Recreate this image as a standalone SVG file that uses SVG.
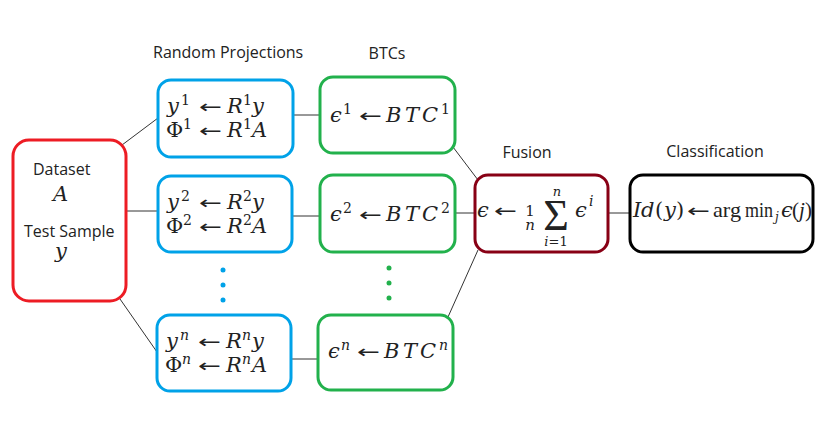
<svg xmlns="http://www.w3.org/2000/svg" width="830" height="440" viewBox="0 0 830 440">
<style>
.box{fill:#fff;stroke-width:3}
.lbl{font-family:"Open Sans",Lato,sans-serif;font-size:16px;fill:#222}
.m{font-family:"DejaVu Serif","Liberation Serif",serif;font-size:21px;fill:#222}
.r{font-family:"Liberation Serif",serif;font-size:21px;fill:#222}
.i{font-style:italic}
.s{font-size:14px}
.t{font-size:13px}
.f{font-size:15px}
.c{stroke:#333;stroke-width:1;fill:none}
</style>
<defs>
<text id="ar" font-family="DejaVu Sans,sans-serif" font-size="18" fill="#222" transform="scale(1.52,1)">←</text>
</defs>
<rect width="830" height="440" fill="#fff"/>
<g id="connectors">
<line class="c" x1="122" y1="145" x2="158" y2="118"/>
<line class="c" x1="126" y1="211" x2="158" y2="211"/>
<line class="c" x1="120" y1="299" x2="157" y2="352"/>
<line class="c" x1="293" y1="115" x2="320" y2="115"/>
<line class="c" x1="292" y1="216" x2="320" y2="216"/>
<line class="c" x1="291" y1="359" x2="318" y2="359"/>
<line class="c" x1="453" y1="147" x2="478" y2="180"/>
<line class="c" x1="455" y1="213" x2="475" y2="213"/>
<line class="c" x1="478" y1="250" x2="448" y2="317"/>
<line class="c" x1="608" y1="213" x2="630" y2="213"/>
</g>
<g id="titles">
<text class="lbl" x="153" y="58">Random Projections</text>
<text class="lbl" x="387" y="59" text-anchor="middle">BTCs</text>
<text class="lbl" x="527" y="158" text-anchor="middle">Fusion</text>
<text class="lbl" x="715" y="157" text-anchor="middle">Classification</text>
</g>
<g id="dataset">
<rect class="box" x="13" y="140" width="113" height="161" rx="16" stroke="#ed1c24"/>
<text class="lbl" x="33" y="175">Dataset</text>
<text class="m i" x="53" y="201">A</text>
<text class="lbl" x="24" y="237">Test Sample</text>
<text class="m i" x="55" y="258">y</text>
</g>
<g id="rp1">
<rect class="box" x="158" y="80" width="135" height="77" rx="13" stroke="#00a2e8"/>
<text class="m" y="113"><tspan class="i" x="167">y</tspan><tspan class="s" x="181" dy="-8">1</tspan><tspan class="i" x="227" dy="8">R</tspan><tspan class="s" x="243" dy="-8">1</tspan><tspan class="i" x="252" dy="8">y</tspan></text>
<use href="#ar" x="199" y="113"/>
<text class="m" y="137"><tspan x="166">Φ</tspan><tspan class="s" x="183" dy="-8">1</tspan><tspan class="i" x="227" dy="8">R</tspan><tspan class="s" x="243" dy="-8">1</tspan><tspan class="i" x="252" dy="8">A</tspan></text>
<use href="#ar" x="199" y="137"/>
</g>
<g id="rp2">
<rect class="box" x="158" y="176" width="134" height="76" rx="13" stroke="#00a2e8"/>
<text class="m" y="209"><tspan class="i" x="167">y</tspan><tspan class="s" x="181" dy="-8">2</tspan><tspan class="i" x="227" dy="8">R</tspan><tspan class="s" x="243" dy="-8">2</tspan><tspan class="i" x="252" dy="8">y</tspan></text>
<use href="#ar" x="199" y="209"/>
<text class="m" y="233"><tspan x="166">Φ</tspan><tspan class="s" x="183" dy="-8">2</tspan><tspan class="i" x="227" dy="8">R</tspan><tspan class="s" x="243" dy="-8">2</tspan><tspan class="i" x="252" dy="8">A</tspan></text>
<use href="#ar" x="199" y="233"/>
</g>
<g id="rpn">
<rect class="box" x="157" y="315" width="134" height="76" rx="13" stroke="#00a2e8"/>
<text class="m" y="348"><tspan class="i" x="166">y</tspan><tspan class="s i" x="180" dy="-8">n</tspan><tspan class="i" x="226" dy="8">R</tspan><tspan class="s i" x="242" dy="-8">n</tspan><tspan class="i" x="252" dy="8">y</tspan></text>
<use href="#ar" x="198" y="348"/>
<text class="m" y="372"><tspan x="165">Φ</tspan><tspan class="s i" x="182" dy="-8">n</tspan><tspan class="i" x="226" dy="8">R</tspan><tspan class="s i" x="242" dy="-8">n</tspan><tspan class="i" x="252" dy="8">A</tspan></text>
<use href="#ar" x="198" y="372"/>
</g>
<g id="dots-blue" fill="#00a2e8">
<circle cx="223" cy="270" r="2.5"/><circle cx="223" cy="285" r="2.5"/><circle cx="223" cy="300" r="2.5"/>
</g>
<g id="dots-green" fill="#22b14c">
<circle cx="389" cy="268" r="2.5"/><circle cx="389" cy="283" r="2.5"/><circle cx="389" cy="298" r="2.5"/>
</g>
<g id="btc1">
<rect class="box" x="320" y="77" width="135" height="76" rx="13" stroke="#22b14c"/>
<text class="m" y="122"><tspan class="i" x="330">ϵ</tspan><tspan class="s" x="343" dy="-8">1</tspan><tspan class="i" x="386" dy="8">B</tspan><tspan class="i" x="405">T</tspan><tspan class="i" x="422">C</tspan><tspan class="s" x="441" dy="-8">1</tspan></text>
<use href="#ar" x="359" y="122"/>
</g>
<g id="btc2">
<rect class="box" x="320" y="175" width="135" height="77" rx="13" stroke="#22b14c"/>
<text class="m" y="221"><tspan class="i" x="330">ϵ</tspan><tspan class="s" x="343" dy="-8">2</tspan><tspan class="i" x="386" dy="8">B</tspan><tspan class="i" x="405">T</tspan><tspan class="i" x="422">C</tspan><tspan class="s" x="441" dy="-8">2</tspan></text>
<use href="#ar" x="359" y="221"/>
</g>
<g id="btcn">
<rect class="box" x="318" y="315" width="135" height="75" rx="13" stroke="#22b14c"/>
<text class="m" y="358"><tspan class="i" x="328">ϵ</tspan><tspan class="s i" x="341" dy="-8">n</tspan><tspan class="i" x="384" dy="8">B</tspan><tspan class="i" x="403">T</tspan><tspan class="i" x="420">C</tspan><tspan class="s i" x="439" dy="-8">n</tspan></text>
<use href="#ar" x="357" y="358"/>
</g>
<g id="fusion">
<rect class="box" x="475" y="175" width="133" height="77" rx="13" stroke="#880015"/>
<text class="m i" x="477" y="217">ϵ</text>
<use href="#ar" x="494" y="217"/>
<text class="m f" x="530" y="216" text-anchor="middle">1</text>
<text class="m f i" x="530" y="230" text-anchor="middle">n</text>
<text x="556" y="230" font-family="Liberation Serif,serif" font-size="44" fill="#222" text-anchor="middle">Σ</text>
<text class="m t i" x="557" y="196" text-anchor="middle">n</text>
<text class="m t" x="556" y="246" text-anchor="middle"><tspan class="i">i</tspan>=1</text>
<text class="m" y="217"><tspan class="i" x="575">ϵ</tspan><tspan class="s i" x="589" dy="-11">i</tspan></text>
</g>
<g id="classification">
<rect class="box" x="630" y="175" width="183" height="77" rx="13" stroke="#000"/>
<text class="m" y="217"><tspan class="i" x="633">I</tspan><tspan class="i" x="641">d</tspan><tspan x="655">(</tspan><tspan class="i" x="664">y</tspan><tspan x="676">)</tspan></text>
<use href="#ar" x="687" y="217"/>
<text class="r" x="713" y="217" textLength="28" lengthAdjust="spacingAndGlyphs">arg</text>
<text class="r" x="745" y="217" textLength="28" lengthAdjust="spacingAndGlyphs">min</text>
<text class="m t i" x="775" y="221" style="font-size:12px">j</text>
<text class="m i" x="781" y="217">ϵ</text>
<text class="r" y="217"><tspan x="792">(</tspan><tspan class="i" x="799">j</tspan><tspan x="805">)</tspan></text>
</g>
</svg>
